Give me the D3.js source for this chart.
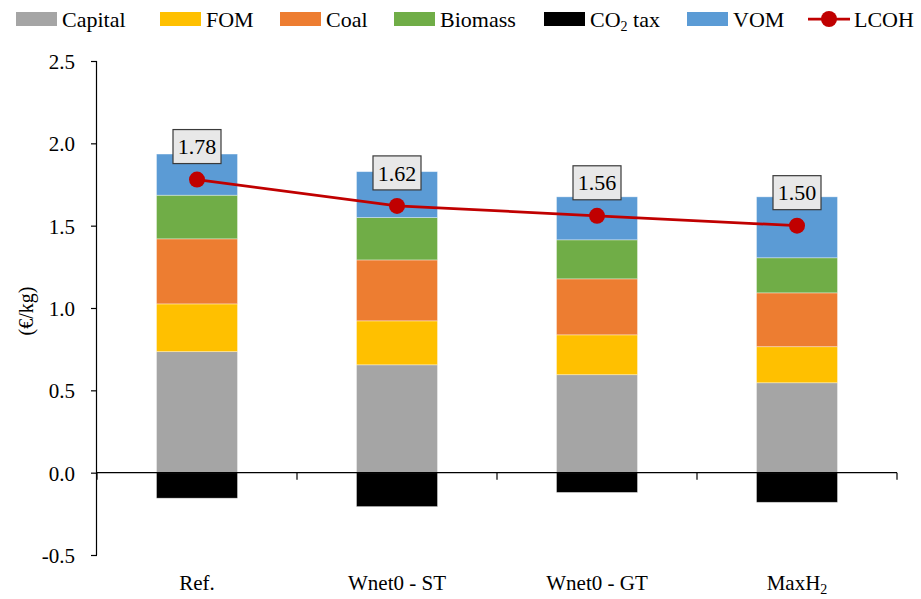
<!DOCTYPE html>
<html><head><meta charset="utf-8">
<script src="https://cdn.jsdelivr.net/npm/d3@7"></script>
<style>body{margin:0;background:#fff}svg{display:block}svg text{font-family:"Liberation Serif",serif !important;fill:#000}</style>
</head><body><svg id="c" width="921" height="599"></svg>
<script>
const categories = ["Ref.", "Wnet0 - ST", "Wnet0 - GT", "MaxH2"];
const capital = [0.735, 0.655, 0.595, 0.546];
const fom = [0.29, 0.267, 0.242, 0.219];
const coal = [0.395, 0.37, 0.34, 0.327];
const biomass = [0.265, 0.257, 0.237, 0.213];
const co2tax = [-0.155, -0.206, -0.12, -0.18];
const vom = [0.25, 0.279, 0.261, 0.37];
const lcoh = [1.78, 1.62, 1.56, 1.50];
const yTicks = [-0.5, 0, 0.5, 1.0, 1.5, 2.0, 2.5];

const seriesKeys = ["Capital","FOM","Coal","Biomass","CO2 tax","VOM"];
const seriesVals = [capital, fom, coal, biomass, co2tax, vom];
const colors = {"Capital":"#a5a5a5","FOM":"#ffc000","Coal":"#ed7d31","Biomass":"#70ad47","CO2 tax":"#000000","VOM":"#5b9bd5"};

const rows = categories.map((c,i)=>{const r={cat:c}; seriesKeys.forEach((k,j)=>r[k]=seriesVals[j][i]); return r;});

const svg = d3.select("#c");
const xc = d3.scaleBand().domain(categories).range([97, 897]);
const y = d3.scaleLinear().domain([-0.5, 2.5]).range([555, 61]);

const stack = d3.stack().keys(seriesKeys).offset(d3.stackOffsetDiverging);
const layers = stack(rows);

svg.append("g").selectAll("g").data(layers).join("g")
  .attr("fill", d=>colors[d.key])
  .selectAll("rect").data(d=>d).join("rect")
  .attr("x", d=>xc(d.data.cat)+xc.bandwidth()/2-40.5)
  .attr("width", 81)
  .attr("y", d=>y(Math.max(d[0],d[1])))
  .attr("height", d=>Math.abs(y(d[0])-y(d[1])))
  .attr("stroke","rgba(255,255,255,0.45)").attr("stroke-width",0.8);

// y axis
const ya = d3.axisLeft(y).tickValues(yTicks).tickFormat(d=>d3.format(".1f")(d).replace("−","-")).tickSize(6).tickPadding(16);
const gy = svg.append("g").attr("transform","translate(97,0)").call(ya);
gy.attr("font-family",null);
gy.select(".domain").attr("stroke","#000").attr("stroke-width",1.2).attr("d","M-0.5,61V555");
gy.selectAll(".tick line").attr("stroke","#000").attr("stroke-width",1.2);
gy.selectAll("text").style("font-size","21px").attr("dy","0.35em");

// x axis at zero
const gx = svg.append("g").attr("transform",`translate(0,${y(0)})`);
gx.append("line").attr("x1",97).attr("x2",897).attr("stroke","#000").attr("stroke-width",1.2);
gx.selectAll("line.t").data([null, ...categories]).join("line").attr("class","t")
  .attr("x1",d=>d===null?97:xc(d)+xc.bandwidth()).attr("x2",d=>d===null?97:xc(d)+xc.bandwidth())
  .attr("y1",0).attr("y2",7).attr("stroke","#000").attr("stroke-width",1.2);

// x labels
const xl = svg.append("g").selectAll("text").data(categories).join("text")
  .attr("x",d=>xc(d)+xc.bandwidth()/2).attr("y",590).attr("text-anchor","middle")
  .style("font-size","21px");
xl.each(function(d){
  const t=d3.select(this);
  if(d==="MaxH2"){t.append("tspan").text("MaxH");t.append("tspan").text("2").attr("font-size","14px").attr("dy","4");}
  else t.text(d);
});

// y title
svg.append("text").attr("transform","translate(33,311) rotate(-90)").attr("text-anchor","middle")
  .style("font-size","20px").text("(€/kg)");

// LCOH line
const cx = d=>xc(d)+xc.bandwidth()/2;
svg.append("path").datum(lcoh)
  .attr("d", d3.line().x((d,i)=>cx(categories[i])).y(d=>y(d)))
  .attr("fill","none").attr("stroke","#c00000").attr("stroke-width",2.75);
svg.append("g").selectAll("circle").data(lcoh).join("circle")
  .attr("cx",(d,i)=>cx(categories[i])).attr("cy",d=>y(d)).attr("r",8).attr("fill","#c00000");

// labels
const lg = svg.append("g").selectAll("g").data(lcoh).join("g")
  .attr("transform",(d,i)=>`translate(${cx(categories[i])},${y(d)-33})`);
lg.append("rect").attr("x",-24).attr("y",-17).attr("width",48).attr("height",34)
  .attr("fill","#e8e8e8").attr("stroke","#3a3a3a").attr("stroke-width",1.2);
lg.append("text").attr("text-anchor","middle").attr("dy","0.35em").style("font-size","22px")
  .text(d=>d3.format(".2f")(d));

// legend
const legendItems = [
  {k:"Capital",x:16},{k:"FOM",x:160},{k:"Coal",x:280},{k:"Biomass",x:394},
  {k:"CO2 tax",x:544},{k:"VOM",x:687},{k:"LCOH",x:808}];
const leg = svg.append("g");
legendItems.forEach(it=>{
  if(it.k==="LCOH"){
    leg.append("line").attr("x1",it.x).attr("x2",it.x+42).attr("y1",19).attr("y2",19).attr("stroke","#c00000").attr("stroke-width",2.75);
    leg.append("circle").attr("cx",it.x+21).attr("cy",19).attr("r",8).attr("fill","#c00000");
  } else {
    leg.append("rect").attr("x",it.x).attr("y",12).attr("width",41).attr("height",14).attr("fill",colors[it.k]);
  }
  const t = leg.append("text").attr("x",it.x+46).attr("y",19).attr("dy","0.35em").style("font-size","22px");
  if(it.k==="CO2 tax"){t.append("tspan").text("CO");t.append("tspan").text("2").attr("font-size","14px").attr("dy","4");t.append("tspan").text(" tax").attr("dy","-4");}
  else t.text(it.k);
});
</script></body></html>
